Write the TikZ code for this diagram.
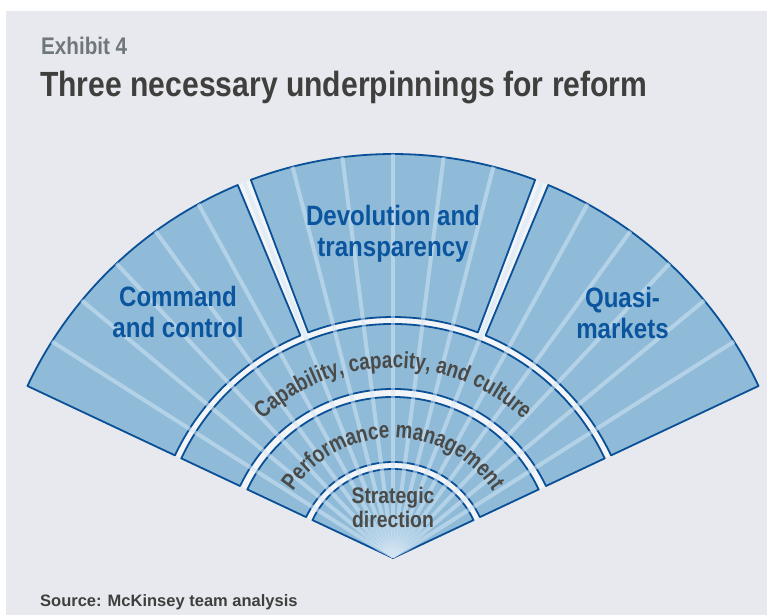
\documentclass[tikz,border=0pt]{standalone}
\usepackage{fontspec}
\setmainfont{Liberation Sans}[FakeStretch=0.86]
\newfontfamily\sourcefont{Liberation Sans}
\newfontfamily\ringfam{Liberation Sans}[FakeStretch=0.8]
\usetikzlibrary{decorations.text}

\definecolor{pagegray}{HTML}{E8E9EE}
\definecolor{gapwhite}{HTML}{F3F4F8}
\definecolor{fanfill}{HTML}{8FBBD8}
\definecolor{fanline}{HTML}{0A5097}
\definecolor{raycol}{HTML}{D4E6F4}
\definecolor{labblue}{HTML}{0B559F}
\definecolor{labgray}{HTML}{4A4A48}
\definecolor{titlegray}{HTML}{3F3F3D}
\definecolor{exgray}{HTML}{6E777B}

\newcommand{\ringfont}{\ringfam\bfseries\fontsize{23.5}{26}\selectfont\color{labgray}}
% one piece of the fan: start angle, end angle, inner radius, outer radius
\newcommand{\fanpiece}[4]{%
  \draw[piece] (#1:#3) -- (#1:#4) arc[start angle=#1,end angle=#2,radius=#4]
    -- (#2:#3) arc[start angle=#2,end angle=#1,radius=#3] -- cycle;}

\begin{document}
\begin{tikzpicture}[line cap=round,line join=round,x=1pt,y=1pt,
  piece/.style={fill=fanfill,draw=fanline,line width=1.8pt},
  ray/.style={draw=raycol,opacity=0.55,line width=4pt,line cap=butt},
  bigtext/.style={font=\bfseries\fontsize{28}{31}\selectfont,text=labblue,align=center,inner sep=0pt},
  ringtext/.style={font=\bfseries\fontsize{22.5}{24}\selectfont,text=labgray,align=center,inner sep=0pt}]

%page and grey panel
\fill[white] (-393,-57) rectangle (374,558);
\fill[pagegray] (-387,-57) rectangle (374,547);
\useasboundingbox (-393,-57) rectangle (374,558);

%heading
\node[anchor=base west,inner sep=0pt,text=exgray,font=\bfseries\fontsize{24}{28}\selectfont] (exhibit) at (-352,503) {Exhibit 4};
\node[anchor=base west,inner sep=0pt,text=titlegray,font=\bfseries\fontsize{35}{40}\selectfont] (title) at (-353,461) {Three necessary underpinnings for reform};

%white base of the fan, shows through the gaps
\fill[gapwhite] (0,0) -- (25.2:404) arc[start angle=25.2,end angle=154.8,radius=404] -- cycle;

%outer segments
\fanpiece{112.6}{154.8}{241}{404}
\fanpiece{69.4}{110.6}{241}{404}
\fanpiece{25.2}{67.4}{241}{404}

%inner rings
\fanpiece{25.2}{154.8}{169}{234}
\fanpiece{25.2}{154.8}{96}{161}
\draw[piece] (0,0) -- (25.2:89) arc[start angle=25.2,end angle=154.8,radius=89] -- cycle;

%light rays, every 7.2 degrees
\begin{scope}
  \clip (0,0) -- (25.2:404) arc[start angle=25.2,end angle=154.8,radius=404] -- cycle;
  \foreach \k in {1,...,17}
    \draw[ray] (0,0) -- ({25.2+7.2*\k}:410);
\end{scope}

%segment labels
\node[bigtext] (command) at (-215,245.7) {Command\\and control};
\node[bigtext] (devolution) at (0,324) {Devolution and\\transparency};
\node[bigtext] (quasi) at (229.5,245.5) {Quasi-\\markets};

%ring labels
\path[decorate,decoration={text along path,text align=center,
  text={|\ringfont|Capability, capacity, and culture}}]
  (154.8:190) arc[start angle=154.8,end angle=25.2,radius=190];
\path[decorate,decoration={text along path,text align=center,
  text={|\ringfont|Performance management}}]
  (154.8:120) arc[start angle=154.8,end angle=25.2,radius=120];
\node[ringtext] (strategic) at (0,50.5) {Strategic\\direction};

%source line
\node[anchor=base west,inner sep=0pt,text=titlegray,font=\sourcefont\bfseries\fontsize{16.5}{19}\selectfont] (source) at (-353,-48) {Source: McKinsey team analysis};

\end{tikzpicture}
\end{document}
